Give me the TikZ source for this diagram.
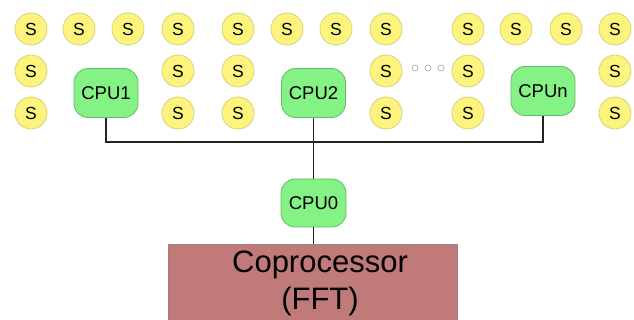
\documentclass[tikz,border=0pt]{standalone}
\usepackage{fontspec}
\setmainfont{Liberation Sans}
\definecolor{sfill}{HTML}{FDF47E}
\definecolor{sdraw}{HTML}{D9D27A}
\definecolor{cfill}{HTML}{84F284}
\definecolor{cdraw}{HTML}{66BB66}
\definecolor{pfill}{HTML}{C07A7A}
\definecolor{pdraw}{HTML}{A08080}
\definecolor{linec}{HTML}{222222}
\tikzset{
  sbox/.style={circle, fill=sfill, draw=sdraw, line width=0.8pt, minimum size=32pt, inner sep=0pt, font=\fontsize{17.5}{18}\selectfont},
  cpubox/.style={rounded corners=14pt, fill=cfill, draw=cdraw, line width=0.8pt, minimum width=64pt, minimum height=49pt, inner sep=0pt, font=\fontsize{18.5}{19}\selectfont},
  dotc/.style={circle, draw=gray!70, line width=0.6pt, minimum size=6pt, inner sep=0pt},
  wire/.style={draw=linec, line width=1.1pt},
}
\begin{document}
\begin{tikzpicture}[x=1pt,y=-1pt]
\useasboundingbox (0,0) rectangle (634,320);
% top row of S nodes
\foreach \x [count=\i] in {31,79,128,178,238,287,336,386,468,516,566,615}
  \node[sbox] (sa\i) at (\x,29) {S};
% second and third rows
\foreach \x [count=\i] in {31,178,238,386,468,615}{
  \node[sbox] (sb\i) at (\x,71) {S};
  \node[sbox] (sc\i) at (\x,113) {S};
}
% ellipsis between groups
\node[dotc] (d1) at (415,68) {};
\node[dotc] (d2) at (428,68) {};
\node[dotc] (d3) at (441,68) {};
% processors
\node[cpubox] (cpu1) at (106,93) {CPU1};
\node[cpubox] (cpu2) at (313.5,93) {CPU2};
\node[cpubox] (cpun) at (543,91) {CPUn};
\node[cpubox, minimum width=65pt, minimum height=48pt] (cpu0) at (313.5,203) {CPU0};
\node[fill=pfill, draw=pdraw, line width=0.8pt, minimum width=289pt, minimum height=90pt, anchor=north west, inner sep=0pt] (cop) at (168,244) {};
\node[font=\fontsize{31}{37}\selectfont, align=center] (coptext) at (320,283) {Coprocessor\\(FFT)};
% bus
\coordinate (b1) at (106,142);
\coordinate (bn) at (543,142);
\draw[wire] (cpu1.south) -- (b1) -- (bn) -- (cpun.south);
\draw[wire] (cpu2.south) -- (cpu0.north);
\draw[wire] (cpu0.south) -- (cop.north -| cpu0.south);
\end{tikzpicture}
\end{document}
